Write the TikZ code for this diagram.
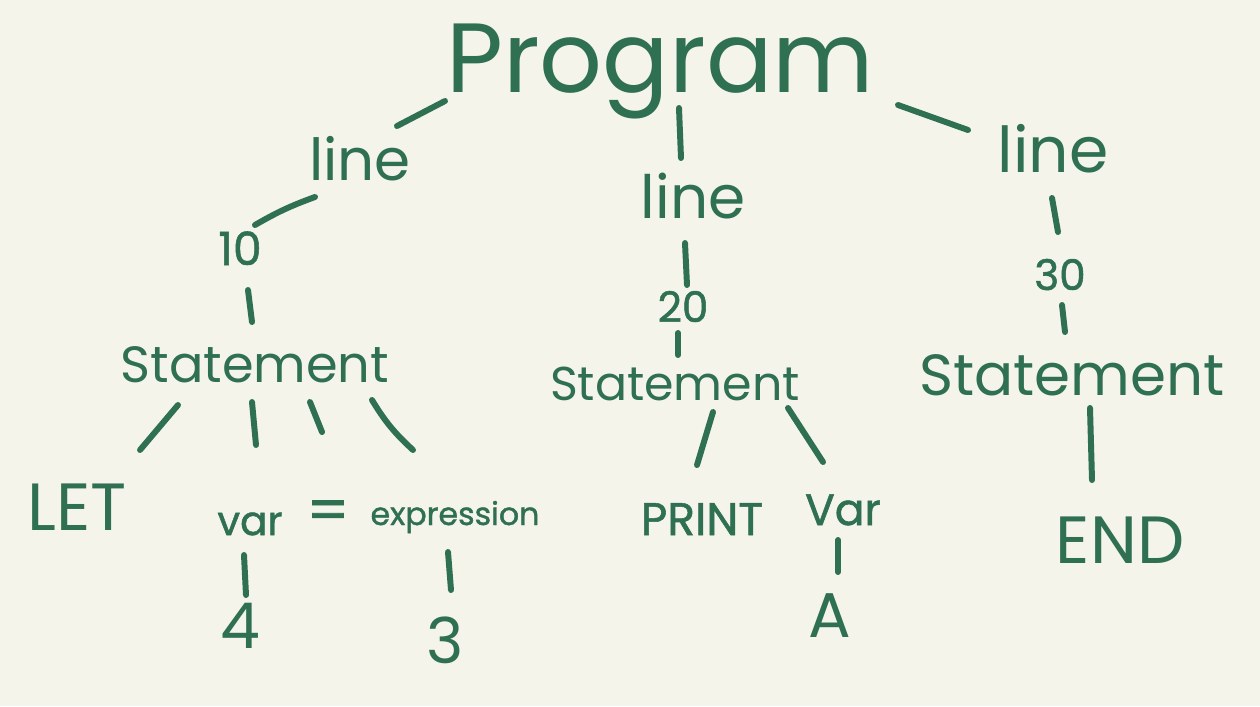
\documentclass[tikz,border=0pt]{standalone}
\usepackage{fontspec}
\setmainfont{Poppins}
\newfontfamily\thickpen{Poppins}[FakeBold=1.2]
\definecolor{pen}{HTML}{2F6F52}
\definecolor{paper}{HTML}{F4F4EA}
\newcommand{\sz}[1]{\fontsize{#1}{#1}\selectfont}

\begin{document}
\begin{tikzpicture}[
  x=0.2mm, y=-0.2mm,
  word/.style={anchor=base, inner sep=0pt, text=pen},
  small/.style={word, font=\thickpen\sz{#1}},
  stroke/.style={draw=pen, line width=3.4pt, line cap=round}
]
\fill[paper] (0,0) rectangle (1260,706);
\useasboundingbox (0,0) rectangle (1260,706);

% top
\node[word, font=\sz{56}] (prog) at (660,92) {Program};

% lines
\node[word, font=\sz{33}] (lineA) at (360,180) {line};
\node[word, font=\sz{34}] (lineB) at (693,218) {line};
\node[word, font=\sz{36}] (lineC) at (1053,172) {line};

% numbers
\node[small=26] (n10) at (240,265) {10};
\node[small=24] (n20) at (683,322) {20};
\node[small=24] (n30) at (1060,290) {30};

% statements
\node[word, font=\sz{29}] (stmtA) at (255,382) {Statement};
\node[word, font=\sz{27}] (stmtB) at (675,400) {Statement};
\node[word, font=\sz{33}] (stmtC) at (1072,395) {Statement};

% leaves
\node[word, font=\sz{38}] (let) at (77,530) {LET};
\node[small=23] (varA) at (250,535) {var};
\node[small=34] (eq) at (328,531) {=};
\node[small=18] (expr) at (455,525) {expression};
\node[small=26] (print) at (702,535) {PRINT};
\node[small=25] (varB) at (843,525) {Var};
\node[word, font=\sz{38}] (end) at (1120,563) {END};
\node[word, font=\sz{36}] (four) at (240,648) {4};
\node[word, font=\sz{36}] (three) at (445,663) {3};
\node[word, font=\sz{36}] (lA) at (830,637) {A};

% strokes
\draw[stroke] ([xshift=-43mm,yshift=-1.8mm]prog.base) -- ([xshift=7.4mm,yshift=10.8mm]lineA.base);
\draw[stroke] ([xshift=3.8mm,yshift=-3.2mm]prog.base) -- ([xshift=-2.4mm,yshift=12mm]lineB.base);
\draw[stroke] ([xshift=47.6mm,yshift=-2.6mm]prog.base) -- ([xshift=-17mm,yshift=8.4mm]lineC.base);
\draw[stroke] ([xshift=-9mm,yshift=-3.4mm]lineA.base) to[bend right=5] ([xshift=3mm,yshift=8mm]n10.base);
\draw[stroke] ([xshift=1.6mm,yshift=-5mm]n10.base) -- ([xshift=-0.6mm,yshift=12mm]stmtA.base);
\draw[stroke] ([xshift=-15.4mm,yshift=-4.6mm]stmtA.base) -- ([xshift=12.6mm,yshift=16mm]let.base);
\draw[stroke] ([xshift=-0.6mm,yshift=-4mm]stmtA.base) -- ([xshift=1.2mm,yshift=18mm]varA.base);
\draw[stroke] ([xshift=11mm,yshift=-4mm]stmtA.base) -- ([xshift=-1.2mm,yshift=19.8mm]eq.base);
\draw[stroke] ([xshift=23.4mm,yshift=-3.6mm]stmtA.base) to[bend right=8] ([xshift=-8.4mm,yshift=15mm]expr.base);
\draw[stroke] ([xshift=-1.2mm,yshift=-4mm]varA.base) -- ([xshift=1.2mm,yshift=10.6mm]four.base);
\draw[stroke] ([xshift=-1.4mm,yshift=-5.4mm]expr.base) -- ([xshift=1.2mm,yshift=14.6mm]three.base);
\draw[stroke] ([xshift=-1.6mm,yshift=-5mm]lineB.base) -- ([xshift=0.8mm,yshift=7.4mm]n20.base);
\draw[stroke] ([xshift=-1mm,yshift=-2.2mm]n20.base) -- ([xshift=0.6mm,yshift=9mm]stmtB.base);
\draw[stroke] ([xshift=7.6mm,yshift=-2.4mm]stmtB.base) -- ([xshift=-1mm,yshift=14mm]print.base);
\draw[stroke] ([xshift=22.6mm,yshift=-1.6mm]stmtB.base) -- ([xshift=-4mm,yshift=12.6mm]varB.base);
\draw[stroke] ([xshift=-1mm,yshift=-3mm]varB.base) -- ([xshift=1.6mm,yshift=13mm]lA.base);
\draw[stroke] ([xshift=-0.2mm,yshift=-5.2mm]lineC.base) -- ([xshift=-0.4mm,yshift=11.6mm]n30.base);
\draw[stroke] ([xshift=0.4mm,yshift=-3mm]n30.base) -- ([xshift=-1.4mm,yshift=12.6mm]stmtC.base);
\draw[stroke] ([xshift=3.6mm,yshift=-2.6mm]stmtC.base) -- ([xshift=-5.6mm,yshift=16.6mm]end.base);
\end{tikzpicture}
\end{document}
